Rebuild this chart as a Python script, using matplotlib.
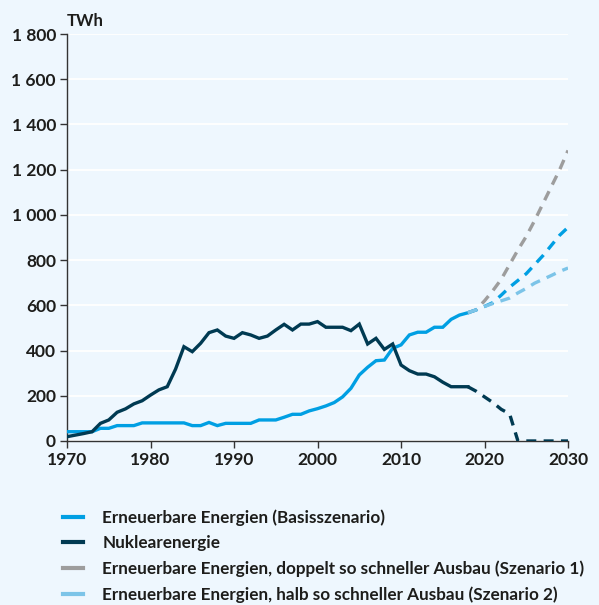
import matplotlib
matplotlib.use('Agg')
import matplotlib.pyplot as plt
from matplotlib.lines import Line2D
from matplotlib.ticker import FuncFormatter

plt.rcParams['font.family'] = ['Lato', 'DejaVu Sans']

# Jahreswerte in TWh
jahre = list(range(1970, 2019))
erneuerbar = [41, 41, 41, 41, 56, 56, 68, 68, 68, 80,
              80, 80, 80, 80, 80, 68, 68, 82, 68, 78,
              78, 78, 78, 93, 93, 93, 105, 118, 118, 133,
              143, 155, 170, 195, 233, 292, 326, 355, 358, 410,
              425, 469, 481, 481, 503, 503, 538, 557, 567]
nuklear = [19, 26, 33, 41, 78, 93, 127, 142, 164, 178,
           203, 226, 240, 318, 417, 395, 432, 479, 491, 464,
           454, 479, 469, 454, 464, 491, 516, 491, 517, 517,
           528, 503, 503, 503, 488, 517, 429, 454, 405, 429,
           336, 311, 296, 296, 284, 260, 240, 240, 240]

# Projektionen bis 2030
jahre_prognose = list(range(2018, 2031))
basis_prognose = [567, 580, 595, 612, 645, 680, 710, 740, 780, 820, 865, 910, 945]
szenario1 = [567, 580, 620, 665, 715, 780, 845, 905, 975, 1050, 1125, 1200, 1285]
szenario2 = [567, 580, 595, 608, 620, 632, 655, 675, 698, 715, 732, 750, 765]
nuklear_prognose = [240, 220, 195, 170, 140, 120, 0, 0, 0, 0, 0, 0, 0]

labels = ['Erneuerbare Energien (Basisszenario)',
          'Nuklearenergie',
          'Erneuerbare Energien, doppelt so schneller Ausbau (Szenario 1)',
          'Erneuerbare Energien, halb so schneller Ausbau (Szenario 2)']

blau = '#009fe3'
dunkel = '#003a52'
grau = '#9d9d9d'
hellblau = '#7cc4e8'
hintergrund = '#eef7fe'
textfarbe = '#1d1d1b'

fig = plt.figure(figsize=(5.99, 6.05), dpi=100, facecolor=hintergrund)
ax = fig.add_axes([0.1119, 0.2711, 0.8364, 0.6727])
ax.set_facecolor(hintergrund)

lw = 2.4
strich = (3, 2.2)
ax.plot(jahre, erneuerbar, color=blau, lw=lw, solid_joinstyle='miter', zorder=3)
ax.plot(jahre, nuklear, color=dunkel, lw=lw, solid_joinstyle='miter', zorder=3)
ax.plot(jahre_prognose, nuklear_prognose, color=dunkel, lw=lw, dashes=strich, zorder=3)
ax.plot(jahre_prognose, szenario1, color=grau, lw=lw, dashes=strich, zorder=3)
ax.plot(jahre_prognose, basis_prognose, color=blau, lw=lw, dashes=strich, zorder=3)
ax.plot(jahre_prognose, szenario2, color=hellblau, lw=lw, dashes=strich, zorder=4)

ax.set_xlim(1970, 2030)
ax.set_ylim(0, 1800)
ax.set_xticks(range(1970, 2031, 10))
ax.set_yticks(range(0, 1801, 200))
ax.yaxis.set_major_formatter(FuncFormatter(lambda v, p: f'{int(v):,}'.replace(',', ' ')))
ax.grid(axis='y', color='white', lw=1.3)
ax.set_axisbelow(True)

for s in ['top', 'right']:
    ax.spines[s].set_visible(False)
for s in ['left', 'bottom']:
    ax.spines[s].set_color('#333333')
    ax.spines[s].set_linewidth(1.0)
ax.tick_params(length=5, width=1.0, color='#333333', labelcolor=textfarbe,
               labelsize=12.5, pad=3)
for t in ax.get_xticklabels() + ax.get_yticklabels():
    t.set_fontweight('bold')

fig.text(0.112, 0.966, 'TWh', fontsize=12, fontweight='bold',
         color=textfarbe, ha='left', va='center')

# Legende unter dem Diagramm
handles = [Line2D([], [], color=c, lw=3) for c in [blau, dunkel, grau, hellblau]]
leg = fig.legend(handles, labels, loc='upper left', bbox_to_anchor=(0.094, 0.17),
                 frameon=False, fontsize=12.3, handlelength=1.15, handletextpad=1.15,
                 labelspacing=0.56, borderaxespad=0)
for t in leg.get_texts():
    t.set_fontweight('bold')
    t.set_color(textfarbe)

plt.savefig('out.png', dpi=100, facecolor=hintergrund)
